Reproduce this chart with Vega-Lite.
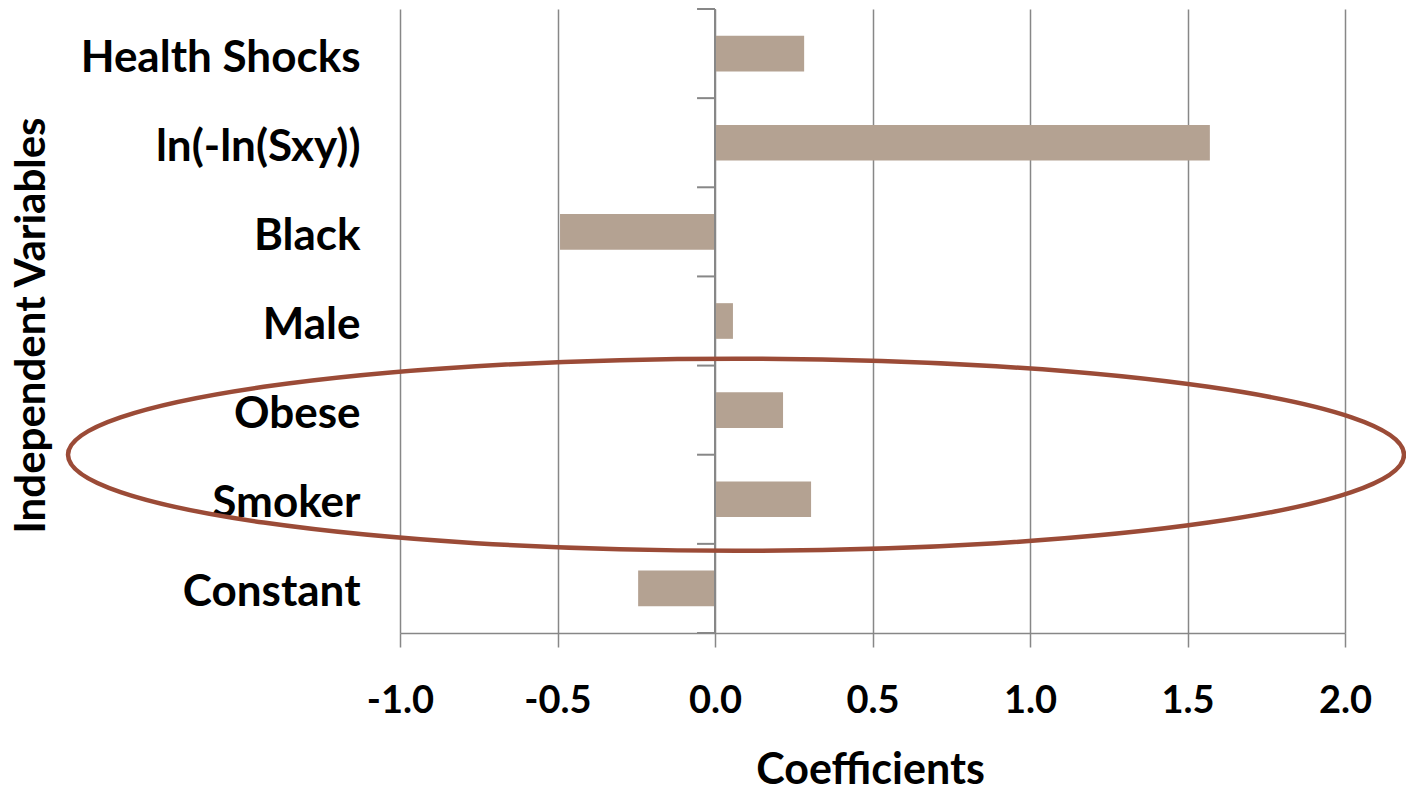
{
  "$schema": "https://vega.github.io/schema/vega-lite/v6.json",
  "width": 945,
  "height": 624,
  "autosize": {"type": "none"},
  "padding": {"left": 400, "top": 9, "right": 61, "bottom": 161},
  "background": "white",
  "config": {"view": {"stroke": null}, "font": "Lato"},
  "datasets": {
    "coef": [
      {"variable": "Health Shocks", "coefficient": 0.283},
      {"variable": "ln(-ln(Sxy))", "coefficient": 1.571},
      {"variable": "Black", "coefficient": -0.492},
      {"variable": "Male", "coefficient": 0.057},
      {"variable": "Obese", "coefficient": 0.216},
      {"variable": "Smoker", "coefficient": 0.305},
      {"variable": "Constant", "coefficient": -0.244}
    ],
    "bounds": [{"b": 0}, {"b": 1}, {"b": 2}, {"b": 3}, {"b": 4}, {"b": 5}, {"b": 6}, {"b": 7}],
    "highlight": [{"group": "Obese and Smoker"}]
  },
  "layer": [
    {
      "data": {"name": "coef"},
      "mark": {"type": "bar", "color": "#B4A292"},
      "encoding": {
        "y": {
          "field": "variable",
          "type": "nominal",
          "sort": null,
          "scale": {"paddingInner": 0.6, "paddingOuter": 0.3},
          "axis": {
            "title": "Independent Variables",
            "ticks": false,
            "tickSize": 0,
            "domain": false,
            "labelFontSize": 44,
            "labelFontWeight": "bold",
            "labelColor": "black",
            "labelPadding": 40,
            "labelOffset": 5,
            "labelLimit": 400,
            "titleFontSize": 42,
            "titleFontWeight": "bold",
            "titleColor": "black",
            "titleAngle": -90,
            "titleX": -369,
            "titleY": 316,
            "titleAlign": "center",
            "titleBaseline": "middle"
          }
        },
        "x": {
          "field": "coefficient",
          "type": "quantitative",
          "scale": {"domain": [-1, 2], "nice": false, "zero": false},
          "axis": {
            "title": "Coefficients",
            "values": [-1, -0.5, 0, 0.5, 1, 1.5, 2],
            "labelExpr": "replace(format(datum.value, '.1f'), '\u2212', '-')",
            "labelFlush": false,
            "labelOverlap": false,
            "grid": true,
            "gridColor": "#878787",
            "gridWidth": 1.5,
            "domainColor": "#878787",
            "domainWidth": 1.5,
            "tickColor": "#878787",
            "tickWidth": 1.5,
            "tickSize": 14,
            "labelFontSize": 38,
            "labelFontWeight": "bold",
            "labelColor": "black",
            "labelPadding": 35,
            "titleFontSize": 43,
            "titleFontWeight": "bold",
            "titleColor": "black",
            "titleX": 470,
            "titleY": 150,
            "titleAlign": "center",
            "titleBaseline": "alphabetic"
          }
        }
      }
    },
    {
      "data": {"name": "highlight"},
      "mark": {"type": "rule", "color": "#878787", "strokeWidth": 2},
      "encoding": {"x": {"datum": 0}}
    },
    {
      "data": {"name": "bounds"},
      "mark": {"type": "rule", "color": "#878787", "strokeWidth": 2},
      "encoding": {
        "y": {"field": "b", "type": "quantitative", "scale": {"domain": [0, 7], "nice": false, "zero": false}, "axis": null},
        "x": {"datum": -0.057},
        "x2": {"datum": 0}
      }
    },
    {
      "data": {"name": "highlight"},
      "mark": {
        "type": "point",
        "shape": "M -1 0 A 1 0.1437 0 1 1 1 0 A 1 0.1437 0 1 1 -1 0 Z",
        "size": 1784896,
        "filled": false,
        "fill": null,
        "stroke": "#9B4B37",
        "strokeWidth": 4.5,
        "opacity": 1
      },
      "encoding": {
        "x": {"datum": 0.0667},
        "y": {"datum": 2, "type": "quantitative", "scale": {"domain": [0, 7], "nice": false, "zero": false}, "axis": null}
      }
    }
  ],
  "resolve": {"scale": {"y": "independent"}}
}
